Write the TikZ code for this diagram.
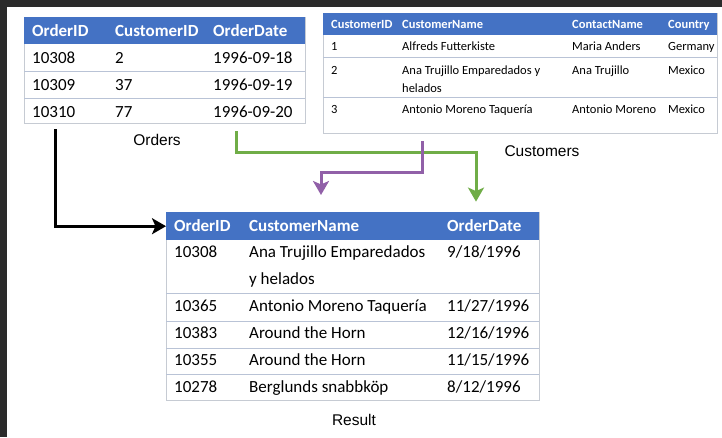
\documentclass[tikz,border=0pt]{standalone}
\usepackage{fontspec}
\setmainfont{Carlito}
\newfontfamily\labelfont{Liberation Sans}
\usetikzlibrary{arrows.meta,positioning,calc}

\definecolor{hdblue}{HTML}{4472C4}
\definecolor{rowline}{HTML}{B9C3D6}
\definecolor{frameline}{HTML}{C6CBD3}
\definecolor{joingreen}{HTML}{70AD47}
\definecolor{joinpurple}{HTML}{9160A8}
\definecolor{darkbar}{HTML}{2B2B2B}

\begin{document}
\begin{tikzpicture}[
    x=1pt, y=-1pt,
    tbl/.style={draw=frameline, line width=1pt, anchor=north west, inner sep=0pt},
    hdrbar/.style={fill=hdblue, anchor=north west, inner sep=0pt},
    big/.style={font=\fontsize{17}{20}\selectfont},
    small/.style={font=\fontsize{12.5}{15}\selectfont},
    bighead/.style={font=\bfseries\fontsize{17}{20}\selectfont},
    smallhead/.style={font=\bfseries\fontsize{12.5}{15}\selectfont},
    head/.style={anchor=base west, inner sep=0pt, text=white},
    cell/.style={anchor=base west, inner sep=0pt},
    caption/.style={font=\labelfont\fontsize{15.5}{18}\selectfont},
    link/.style={line width=3pt, -{Stealth[length=14pt,width=16pt,inset=3.5pt]}},
  ]
  \useasboundingbox (0,0) rectangle (722,437);
  \fill[white] (0,0) rectangle (722,437);
  \fill[darkbar] (0,0) rectangle (722,7);
  \fill[darkbar] (0,0) rectangle (7,437);

  % Orders
  \node[tbl, minimum width=281pt, minimum height=106pt] (orders) at (24,17) {};
  \node[hdrbar, minimum width=281pt, minimum height=27pt] (ordhead) at (24,17) {};
  \foreach \y in {71,98}
    \draw[rowline] (24,\y) -- (305,\y);
  \node[head, bighead] at (32,36.5) {OrderID};
  \node[head, bighead] at (115,36.5) {CustomerID};
  \node[head, bighead] at (213,36.5) {OrderDate};
  \foreach \a/\b/\c [count=\i] in {10308/2/1996-09-18, 10309/37/1996-09-19, 10310/77/1996-09-20} {
    \node[cell, big] (ord-\i-a) at (32,{63.5+27*(\i-1)}) {\a};
    \node[cell, big] (ord-\i-b) at (115,{63.5+27*(\i-1)}) {\b};
    \node[cell, big] (ord-\i-c) at (213,{63.5+27*(\i-1)}) {\c};
  }
  \node[caption] (lblorders) at (157,140) {Orders};

  % Customers
  \node[tbl, minimum width=394pt, minimum height=120pt] (customers) at (323,13) {};
  \node[hdrbar, minimum width=394pt, minimum height=22pt] (custhead) at (323,13) {};
  \foreach \y in {57,97}
    \draw[rowline] (323,\y) -- (717,\y);
  \node[head, smallhead] at (331,28) {CustomerID};
  \node[head, smallhead] at (402,28) {CustomerName};
  \node[head, smallhead] at (572,28) {ContactName};
  \node[head, smallhead] at (668,28) {Country};
  \node[cell, small] (cust-1-a) at (331,50) {1};
  \node[cell, small] (cust-1-b) at (402,50) {Alfreds Futterkiste};
  \node[cell, small] (cust-1-c) at (572,50) {Maria Anders};
  \node[cell, small] (cust-1-d) at (668,50) {Germany};
  \node[cell, small] (cust-2-a) at (331,74) {2};
  \node[cell, small] (cust-2-b) at (402,74) {Ana Trujillo Emparedados y};
  \node[cell, small] (cust-2-bb) at (402,92) {helados};
  \node[cell, small] (cust-2-c) at (572,74) {Ana Trujillo};
  \node[cell, small] (cust-2-d) at (668,74) {Mexico};
  \node[cell, small] (cust-3-a) at (331,113) {3};
  \node[cell, small] (cust-3-b) at (402,113) {Antonio Moreno Taquería};
  \node[cell, small] (cust-3-c) at (572,113) {Antonio Moreno};
  \node[cell, small] (cust-3-d) at (668,113) {Mexico};
  \node[caption] (lblcustomers) at (542,151) {Customers};

  % Result
  \node[tbl, minimum width=373pt, minimum height=188pt] (result) at (166,212) {};
  \node[hdrbar, minimum width=373pt, minimum height=28pt] (reshead) at (166,212) {};
  \foreach \y in {293,321,348,374}
    \draw[rowline] (166,\y) -- (539,\y);
  \node[head, bighead] (res-h-a) at (174,231.5) {OrderID};
  \node[head, bighead] (res-h-b) at (249,231.5) {CustomerName};
  \node[head, bighead] (res-h-c) at (447,231.5) {OrderDate};
  \node[cell, big] (res-1-a) at (174,257.5) {10308};
  \node[cell, big] (res-1-b) at (249,257.5) {Ana Trujillo Emparedados};
  \node[cell, big] (res-1-bb) at (249,284.5) {y helados};
  \node[cell, big] (res-1-c) at (447,257.5) {9/18/1996};
  \foreach \a/\b/\c [count=\i from 2] in {10365/Antonio Moreno Taquería/11\slash27\slash1996,
      10383/Around the Horn/12\slash16\slash1996,
      10355/Around the Horn/11\slash15\slash1996,
      10278/Berglunds snabbköp/8\slash12\slash1996} {
    \node[cell, big] (res-\i-a) at (174,{311.5+27*(\i-2)}) {\a};
    \node[cell, big] (res-\i-b) at (249,{311.5+27*(\i-2)}) {\b};
    \node[cell, big] (res-\i-c) at (447,{311.5+27*(\i-2)}) {\c};
  }
  \node[caption] (lblresult) at (354,420) {Result};

  % joins
  \coordinate (blkstart) at ($(orders.south west)+(31,5)$);
  \coordinate (grnstart) at ($(orders.south west)+(212,7)$);
  \coordinate (grnend) at ($(res-h-c.west)+(29,-24)$);
  \coordinate (purstart) at ($(customers.south west)+(99,7)$);
  \coordinate (purend) at ($(res-h-b.west)+(72,-31)$);
  \draw[link, black] (blkstart) |- (reshead.west);
  \draw[link, joingreen] (grnstart) -- ++(0,21) -| (grnend);
  \draw[link, joinpurple] (purstart) -- ++(0,31) -| (purend);
\end{tikzpicture}
\end{document}
